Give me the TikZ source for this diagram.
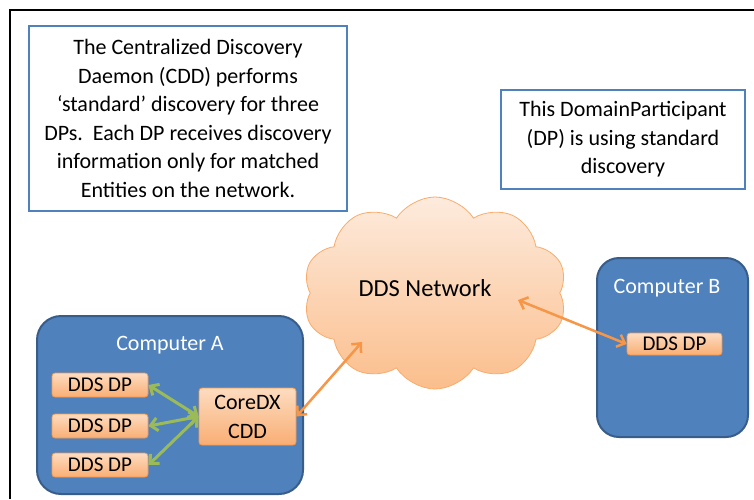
\documentclass[tikz,border=0pt]{standalone}
\usepackage{fontspec}
\setmainfont{Carlito}
\usetikzlibrary{shapes.symbols,arrows.meta}
\definecolor{accblue}{HTML}{4F81BD}
\definecolor{darkblue}{HTML}{385D8A}
\definecolor{accorange}{HTML}{F79646}
\definecolor{accgreen}{HTML}{9BBB59}
\definecolor{peachtop}{HTML}{FDEBDD}
\definecolor{peachbot}{HTML}{FBBE8C}
\definecolor{dptop}{HTML}{FDDCC0}
\definecolor{dpbot}{HTML}{F9AE74}
\tikzset{
  note/.style={draw=accblue, line width=2pt, fill=white, align=center, inner sep=0pt,
    font=\fontsize{22}{28.6}\selectfont},
  computer/.style={draw=darkblue, line width=2pt, fill=accblue, rounded corners=24pt, inner sep=0pt},
  complabel/.style={text=white, font=\fontsize{22}{26}\selectfont, inner sep=0pt},
  dpbox/.style={draw=accorange, line width=0.8pt, top color=dptop, bottom color=dpbot,
    rounded corners=3pt, inner sep=0pt, minimum width=96pt, minimum height=24pt,
    font=\fontsize{21}{24}\selectfont},
  garrow/.style={draw=accgreen, line width=3pt, {Straight Barb[length=7pt,width=13pt]}-{Straight Barb[length=7pt,width=13pt]}},
  oarrow/.style={draw=accorange, line width=2.5pt, {Straight Barb[length=7pt,width=13pt]}-{Straight Barb[length=7pt,width=13pt]}},
}
\begin{document}
\begin{tikzpicture}[x=1pt,y=-1pt]
\useasboundingbox (0,0) rectangle (754,499);
% frame
\draw[line width=2pt] (10,499) -- (10,10) -- (754,10);
% notes
\node[note, minimum width=318pt, minimum height=185pt] (note1) at (188,118.5)
  {The Centralized Discovery\\Daemon (CDD) performs\\`standard' discovery for three\\DPs.\ \ Each DP receives discovery\\information only for matched\\Entities on the network.};
\node[note, minimum width=244pt, minimum height=99pt] (note2) at (623,139.5)
  {This DomainParticipant\\(DP) is using standard\\discovery};
% cloud
\node[cloud, cloud puffs=10, cloud puff arc=115, aspect=1.4, draw=accorange!80, line width=0.8pt,
  top color=peachtop, bottom color=peachbot, minimum width=264pt, minimum height=192pt,
  inner sep=0pt] (cloud) at (435,293) {};
\node[font=\fontsize{24.5}{28}\selectfont, inner sep=0pt] (nettext) at (425,288) {DDS Network};
% computers
\node[computer, minimum width=266pt, minimum height=178pt] (compA) at (170,405) {};
\node[complabel] (labA) at (170,345) {Computer A};
\node[computer, rounded corners=22pt, minimum width=151pt, minimum height=179pt] (compB) at (672.5,347.5) {};
\node[complabel] (labB) at (667,288) {Computer B};
% DP boxes
\node[dpbox] (a1) at (100,385) {DDS DP};
\node[dpbox] (a2) at (100,426) {DDS DP};
\node[dpbox] (a3) at (100,465) {DDS DP};
\node[dpbox, minimum width=97pt, minimum height=57pt, align=center,
  font=\fontsize{22}{29}\selectfont] (cdd) at (247.5,416.5) {CoreDX\\CDD};
\node[dpbox, minimum width=95pt, minimum height=22pt] (bdp) at (674.5,344) {DDS DP};
% arrows
\coordinate (c1) at (362,342);
\coordinate (c2) at (518,300);
\draw[garrow] (cdd.west) -- (a1.east);
\draw[garrow] (cdd.west) -- (a2.east);
\draw[garrow] (cdd.west) -- (a3.east);
\draw[oarrow] (cdd.east) -- (c1);
\draw[oarrow] (c2) -- (bdp.west);
\end{tikzpicture}
\end{document}
